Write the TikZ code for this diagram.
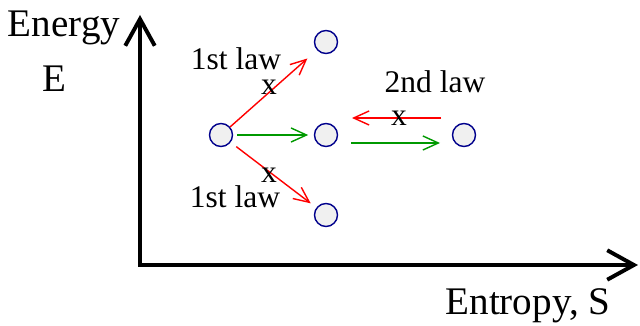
\documentclass[tikz,border=0pt]{standalone}
\usepackage{fontspec}
\setmainfont{Liberation Serif}
\usetikzlibrary{arrows.meta,calc}
\begin{document}
\begin{tikzpicture}[x=0.025cm, y=-0.025cm,
  state/.style={circle, draw=blue!55!black, fill=gray!12, line width=1pt, minimum size=0.575cm, inner sep=0pt},
  law/.style={line width=1pt, -{Straight Barb[length=11pt,width=10pt]}},
  lbl/.style={font=\fontsize{22.4}{26}\selectfont, anchor=base, inner sep=0pt},
  axlbl/.style={font=\fontsize{27.8}{32}\selectfont, anchor=base, inner sep=0pt},
  axis/.style={line width=2.8pt, -{Straight Barb[length=19pt,width=21pt]}}]
\useasboundingbox (0,0) rectangle (640,326);
% axes
\coordinate (O) at (140,265);
\coordinate (Etop) at (140,15);
\coordinate (Sright) at (638,265);
\draw[axis] (O) -- (Etop);
\draw[axis] ([xshift=-1.4pt]O) -- (Sright);
\node[axlbl] (energy) at (64,37) {Energy};
\node[axlbl] (e) at (54,92) {E};
\node[axlbl] (entropy) at (528,315) {Entropy, S};
% states
\node[state] (A) at (221,135) {};
\node[state] (B) at (326,42) {};
\node[state] (C) at (326,135) {};
\node[state] (D) at (326,215) {};
\node[state] (F) at (464,135) {};
% transitions
\draw[law, red, shorten >=9pt] (A) -- (B);
\draw[law, green!60!black, shorten <=3pt, shorten >=4pt] (A) -- (C);
\draw[law, red, shorten <=5pt, shorten >=5pt] (A) -- (D);
\draw[law, red] ($(F)+(-23,-17)$) -- ($(C)+(26,-17)$);
\draw[law, green!60!black] ($(C)+(25,8)$) -- ($(F)+(-24,8)$);
\node[lbl] (l1) at (236,70) {1st law};
\node[lbl] (x1) at (269,95) {x};
\node[lbl] (x2) at (269,183) {x};
\node[lbl] (l2) at (235,208) {1st law};
\node[lbl] (l3) at (435,93) {2nd law};
\node[lbl] (x3) at (399,126) {x};
\end{tikzpicture}
\end{document}
